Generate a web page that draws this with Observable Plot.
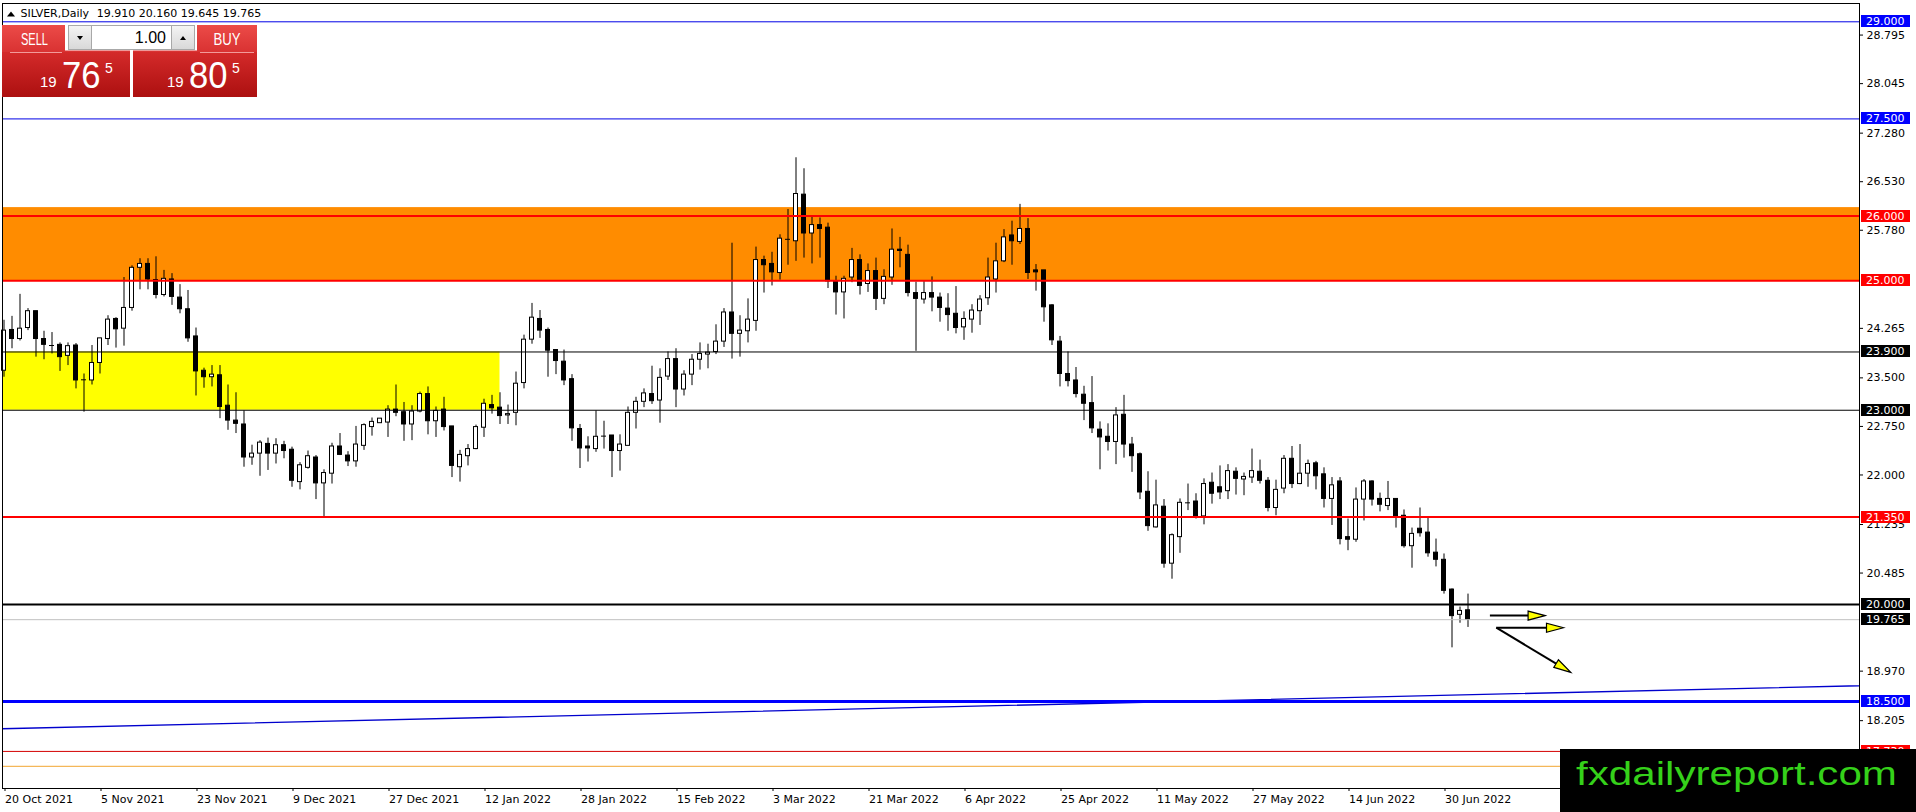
<!DOCTYPE html>
<html lang="en">
<head>
<meta charset="utf-8">
<title>SILVER, Daily</title>
<script src="https://cdn.jsdelivr.net/npm/d3@7"></script>
<script src="https://cdn.jsdelivr.net/npm/@observablehq/plot@0.6"></script>
<style>
  html, body { margin:0; padding:0; background:#fff; }
  #wrap { position:relative; width:1916px; height:812px; overflow:hidden; background:#fff; }
  #chart svg { display:block; }
  #ui { position:absolute; left:0; top:0; pointer-events:none; }
</style>
</head>
<body>
<div id="wrap">
  <div id="chart"></div>
  <svg id="ui" width="1916" height="812" viewBox="0 0 1916 812"></svg>
</div>
<script>
// ---------- DATA ----------
const symbol = "SILVER,Daily";
const opens = [
23.61,24.24,24.10,24.27,24.53,24.10,24.01,24.01,23.84,24.00,
23.46,23.46,23.73,24.10,24.41,24.26,24.58,25.20,25.26,25.01,
24.78,25.02,24.74,24.56,24.14,23.61,23.51,23.54,23.07,22.84,
22.78,22.27,22.33,22.48,22.33,22.46,22.39,21.89,22.11,22.27,
21.87,22.02,22.44,22.30,22.21,22.45,22.74,22.80,22.81,23.01,
22.97,22.78,22.98,23.25,22.83,23.01,22.75,22.12,22.29,22.40,
22.73,23.08,23.04,22.92,22.96,23.42,24.09,24.41,24.24,23.93,
23.75,23.48,22.71,22.44,22.40,22.60,22.61,22.37,22.45,22.96,
23.13,23.25,23.15,23.52,23.79,23.32,23.55,23.78,23.86,23.90,
24.06,24.51,24.18,24.22,24.38,25.32,25.26,25.12,25.64,25.61,
26.33,25.73,25.86,25.82,24.99,24.82,25.05,25.32,24.95,25.15,
24.72,25.05,25.48,25.40,24.81,24.71,24.81,24.74,24.57,24.49,
24.28,24.40,24.53,24.73,25.02,25.30,25.70,25.60,25.80,25.16,
25.16,24.62,24.06,23.56,23.46,23.24,23.11,22.70,22.59,22.51,
22.93,22.47,22.32,21.74,21.19,21.51,20.63,21.04,21.57,21.59,
21.36,21.88,21.81,21.75,22.05,21.93,21.96,22.05,21.91,21.49,
21.79,22.25,21.86,22.02,22.18,22.01,21.63,21.90,21.04,21.00,
21.62,21.90,21.63,21.52,21.63,21.37,20.90,21.17,21.11,20.80,
20.69,20.23,19.84,19.910];
const highs = [
24.39,24.45,24.79,24.57,24.53,24.22,24.20,24.04,24.04,24.03,
23.56,24.00,24.11,24.46,24.43,25.05,25.23,25.34,25.34,25.37,
25.16,25.11,24.94,24.85,24.27,23.65,23.69,23.69,23.39,23.27,
22.99,22.46,22.53,22.57,22.56,22.52,22.43,22.19,22.37,22.30,
22.08,22.49,22.64,22.36,22.75,22.79,22.88,22.87,23.07,23.39,
23.12,23.07,23.28,23.36,23.05,23.20,22.75,22.38,22.47,22.77,
23.17,23.23,23.27,23.08,23.59,24.16,24.65,24.54,24.27,23.93,
23.93,23.55,22.78,22.59,22.99,22.83,22.61,22.62,23.05,23.20,
23.33,23.68,23.64,23.90,23.95,23.61,23.86,24.04,24.02,24.32,
24.57,25.58,24.46,24.72,25.52,25.38,25.44,25.71,26.10,26.90,
26.73,25.99,25.97,25.89,25.07,25.07,25.50,25.40,25.26,25.35,
25.17,25.80,25.67,25.55,24.98,24.99,25.06,24.81,24.80,24.91,
24.52,24.63,24.77,25.35,25.58,25.79,25.92,26.18,25.96,25.25,
25.16,24.63,24.14,23.90,23.66,23.37,23.52,22.82,22.79,23.04,
23.23,22.58,22.34,22.05,21.92,21.62,21.09,21.63,21.86,21.71,
21.94,22.03,22.14,22.16,22.11,22.03,22.40,22.23,21.96,21.92,
22.30,22.44,22.47,22.23,22.21,22.11,21.96,21.96,21.32,21.80,
21.93,21.91,21.72,21.90,21.63,21.46,21.18,21.49,21.34,21.01,
20.78,20.24,19.96,20.160];
const lows = [
23.51,23.95,24.07,24.23,23.82,23.78,23.87,23.60,23.69,23.33,
22.97,23.39,23.56,24.00,23.96,23.99,24.53,24.86,24.86,24.72,
24.75,24.62,24.49,24.05,23.22,23.34,23.36,22.87,22.69,22.64,
22.12,22.15,21.98,22.07,22.17,22.25,21.81,21.77,22.09,21.62,
21.35,21.86,22.30,22.13,22.12,22.38,22.60,22.80,22.58,22.90,
22.52,22.53,22.96,22.62,22.58,22.68,21.96,21.89,22.14,22.39,
22.58,22.94,22.78,22.78,22.76,23.33,24.02,24.11,23.51,23.55,
23.38,22.52,22.10,22.20,22.35,22.40,21.96,22.06,22.45,22.71,
23.04,23.09,22.80,23.46,23.04,23.22,23.38,23.62,23.64,23.86,
23.97,23.79,23.82,24.04,24.22,24.81,24.92,25.01,25.24,25.30,
25.35,25.26,25.35,24.88,24.47,24.41,24.97,24.78,24.82,24.54,
24.63,24.93,25.20,24.75,23.91,24.64,24.52,24.36,24.22,24.18,
24.08,24.19,24.31,24.62,24.81,25.28,25.24,25.56,25.02,24.84,
24.36,24.00,23.36,23.36,23.19,22.84,22.64,22.08,22.37,22.16,
22.26,22.04,21.62,21.13,21.18,20.56,20.39,20.79,21.45,21.32,
21.23,21.55,21.62,21.62,21.69,21.68,21.87,21.86,21.43,21.37,
21.71,21.79,21.85,21.81,21.77,21.49,21.22,20.92,20.83,20.96,
21.29,21.52,21.43,21.45,21.18,20.87,20.56,21.04,20.73,20.58,
20.16,19.33,19.71,19.645];
const closes = [
24.23,24.10,24.26,24.53,24.10,24.01,24.00,23.82,23.99,23.46,
23.47,23.73,24.11,24.40,24.25,24.58,25.20,25.26,25.02,24.78,
25.03,24.75,24.56,24.11,23.60,23.51,23.55,23.05,22.84,22.79,
22.27,22.33,22.50,22.33,22.46,22.37,21.91,22.15,22.29,21.87,
22.03,22.44,22.31,22.21,22.47,22.77,22.82,22.87,23.01,22.96,
22.78,22.98,23.25,22.83,22.99,22.74,22.14,22.31,22.40,22.74,
23.10,23.03,22.91,22.94,23.41,24.09,24.43,24.23,23.92,23.76,
23.46,22.72,22.41,22.41,22.59,22.60,22.37,22.47,22.96,23.13,
23.26,23.14,23.50,23.79,23.32,23.55,23.78,23.87,23.89,24.06,
24.51,24.18,24.23,24.40,25.32,25.24,25.13,25.65,25.64,26.34,
25.73,25.86,25.80,24.99,24.82,25.03,25.32,24.92,25.15,24.72,
25.06,25.48,25.46,24.81,24.72,24.81,24.74,24.58,24.47,24.27,
24.41,24.54,24.71,25.05,25.30,25.67,25.61,25.80,25.12,25.13,
24.59,24.08,23.56,23.45,23.25,23.10,22.72,22.58,22.51,22.92,
22.47,22.29,21.73,21.21,21.53,20.63,21.07,21.57,21.57,21.36,
21.86,21.71,21.73,22.06,21.94,21.97,22.06,21.91,21.49,21.77,
22.25,21.86,22.02,22.17,21.98,21.63,21.84,21.01,21.00,21.62,
21.90,21.62,21.54,21.63,21.36,20.90,21.09,21.10,20.79,20.69,
20.21,19.82,19.90,19.765];

// x tick labels: every 12th bar
const xTickBars = [0,12,24,36,48,60,72,84,96,108,120,132,144,156,168,180];
const xTickLabels = ["20 Oct 2021","5 Nov 2021","23 Nov 2021","9 Dec 2021","27 Dec 2021","12 Jan 2022",
  "28 Jan 2022","15 Feb 2022","3 Mar 2022","21 Mar 2022","6 Apr 2022","25 Apr 2022",
  "11 May 2022","27 May 2022","14 Jun 2022","30 Jun 2022"];
// visible y tick values of the price scale
const yTickValues = [28.795,28.045,27.280,26.530,25.780,24.265,23.500,22.750,22.000,21.235,20.485,18.970,18.205];

// horizontal levels
const levelPrices = [29.0, 27.5, 26.0, 25.0, 23.9, 23.0, 21.35, 20.0, 19.765, 18.5, 17.73, 17.5];
const levelKinds  = ["blue","blue","red","red","black","black","red","blackThick","bid","blueThick","darkred","orange"];

// zones (rectangles)
const zoneLow   = [25.0, 23.0];
const zoneHigh  = [26.13, 23.9];
const zoneStart = [-5, -5];
const zoneEnd   = [300, 62];
const zoneKinds = ["orange","yellow"];

// sloped trend line (bar index, price)
const trendBars   = [-1, 240];
const trendPrices = [18.078, 18.768];

// arrows (bar index, price)
const arrowX1 = [185.8, 186.6, 186.6];
const arrowY1 = [19.82, 19.633, 19.633];
const arrowX2 = [192.7, 195.0, 195.9];
const arrowY2 = [19.82, 19.633, 18.944];

// quotes
const bid = 19.765, ask = 19.805, lots = 1.00;

// ---------- STYLES ----------
const levelStyle = {
  blue:       {stroke:"#0000e6", width:1, label:"#0000ff"},
  red:        {stroke:"#ff0000", width:2, label:"#ff0000"},
  black:      {stroke:"#000000", width:1, label:"#000000"},
  blackThick: {stroke:"#000000", width:2, label:"#000000"},
  bid:        {stroke:"#c0c0c0", width:1, label:"#000000"},
  blueThick:  {stroke:"#0000ff", width:3, label:"#0000ff"},
  darkred:    {stroke:"#d40000", width:1, label:"#ff0000"},
  orange:     {stroke:"#f2a630", width:1, label:null}
};
const zoneFill = {orange:"#ff8c00", yellow:"#ffff00"};

// ---------- BUILD ----------
const bars = opens.map((o, i) => ({i, o, h: highs[i], l: lows[i], c: closes[i]}));
const isDoji = d => Math.abs(d.c - d.o) < 0.015;
const bulls = bars.filter(d => !isDoji(d) && d.c > d.o);
const bears = bars.filter(d => !isDoji(d) && d.c < d.o);
const dojis = bars.filter(isDoji);
const levels = levelPrices.map((p, k) => ({p, kind: levelKinds[k]}));
const zones = zoneLow.map((lo, k) => ({lo, hi: zoneHigh[k], x1: zoneStart[k], x2: zoneEnd[k], kind: zoneKinds[k]}));
const trend = trendBars.map((b, k) => ({b, p: trendPrices[k]}));
const f3 = d3.format(".3f");

const W = 1916, H = 812;
const mL = 2, mR = 57, mT = 3, mB = 24;
const barPx = 8, firstBarPx = 3.5;
const xDomain = [(mL - firstBarPx) / barPx, (W - mR - firstBarPx) / barPx];
// 29.000 sits at y=21.3, 64.74 px per unit
const pxPerUnit = 64.74, y29 = 21.3;
const yDomain = [29 - (H - mB - y29) / pxPerUnit, 29 + (y29 - mT) / pxPerUnit];

function priceLabels(index, scales, values, dimensions) {
  const g = d3.create("svg:g").attr("text-anchor", "start");
  const x0 = dimensions.width - dimensions.marginRight;
  levels.forEach(lv => {
    const bg = levelStyle[lv.kind].label;
    if (!bg) return;
    const y = Math.round(scales.y(lv.p));
    g.append("rect").attr("x", x0 + 2).attr("y", y - 6).attr("width", 49).attr("height", 12).attr("fill", bg);
    g.append("text").attr("x", x0 + 7).attr("y", y).attr("dy", "0.36em").attr("fill", "white")
      .attr("text-anchor", "start")
      .attr("font-family", "DejaVu Sans").attr("font-size", 11).text(f3(lv.p));
  });
  return g.node();
}

function arrowMark(index, scales) {
  const g = d3.create("svg:g");
  arrowX1.forEach((_, k) => {
    const x1 = scales.x(arrowX1[k]), y1 = scales.y(arrowY1[k]);
    const x2 = scales.x(arrowX2[k]), y2 = scales.y(arrowY2[k]);
    const a = Math.atan2(y2 - y1, x2 - x1), L = 17, w = 4.5;
    const bx = x2 - L * Math.cos(a), by = y2 - L * Math.sin(a);
    g.append("line").attr("x1", x1).attr("y1", y1).attr("x2", bx).attr("y2", by)
      .attr("stroke", "black").attr("stroke-width", 2);
    const px = -Math.sin(a) * w, py = Math.cos(a) * w;
    g.append("polygon").attr("points", `${x2},${y2} ${bx + px},${by + py} ${bx - px},${by - py}`)
      .attr("fill", "#ffff00").attr("stroke", "black").attr("stroke-width", 1.2).attr("stroke-linejoin", "miter");
  });
  return g.node();
}

const marks = [];
zones.forEach(z => marks.push(Plot.rect([z], {x1: "x1", x2: "x2", y1: "lo", y2: "hi", fill: zoneFill[z.kind], clip: true})));
marks.push(Plot.line(trend, {x: "b", y: "p", stroke: "#0000cd", strokeWidth: 1.3, clip: true}));
marks.push(Plot.ruleX(bars, {x: "i", y1: "l", y2: "h", stroke: "black", strokeWidth: 1}));
marks.push(Plot.rect(bulls, {x1: d => d.i - 0.25, x2: d => d.i + 0.25, y1: "o", y2: "c", fill: "white", stroke: "black", strokeWidth: 1}));
marks.push(Plot.rect(bears, {x1: d => d.i - 0.25, x2: d => d.i + 0.25, y1: "o", y2: "c", fill: "black", stroke: "black", strokeWidth: 1}));
marks.push(Plot.ruleY(dojis, {y: "c", x1: d => d.i - 0.3125, x2: d => d.i + 0.3125, stroke: "black", strokeWidth: 1}));
levels.forEach(lv => {
  const s = levelStyle[lv.kind];
  marks.push(Plot.ruleY([lv], {y: "p", stroke: s.stroke, strokeWidth: s.width}));
});
marks.push(arrowMark);
marks.push(Plot.frame({stroke: "black"}));
marks.push(Plot.axisX({ticks: xTickBars, tickFormat: d => xTickLabels[xTickBars.indexOf(d)], tickSize: 3, tickPadding: 4,
  textAnchor: "start", dx: 1, anchor: "bottom", label: null, fontSize: 11}));
marks.push(Plot.axisY({anchor: "right", ticks: yTickValues, tickFormat: f3, tickSize: 3, tickPadding: 4, label: null, fontSize: 11}));
marks.push(priceLabels);

const plot = Plot.plot({
  width: W, height: H,
  marginLeft: mL, marginRight: mR, marginTop: mT, marginBottom: mB,
  style: {fontFamily: "DejaVu Sans", fontSize: "11px", background: "white", color: "black"},
  x: {type: "linear", domain: xDomain, axis: null},
  y: {type: "linear", domain: yDomain, axis: null},
  marks
});
document.getElementById("chart").appendChild(plot);

// ---------- UI overlay: header, one-click panel, logo ----------
const ui = d3.select("#ui");
const defs = ui.append("defs");
function grad(id, c1, c2) {
  const lg = defs.append("linearGradient").attr("id", id).attr("x1", 0).attr("y1", 0).attr("x2", 0).attr("y2", 1);
  lg.append("stop").attr("offset", "0%").attr("stop-color", c1);
  lg.append("stop").attr("offset", "100%").attr("stop-color", c2);
}
grad("gTop", "#ec4b48", "#d93232");
grad("gBot", "#d42a2a", "#ac1010");
grad("gBtn", "#f4f4f4", "#d8d8d8");

// header
const last = bars[bars.length - 1];
ui.append("polygon").attr("points", "7,16.5 15,16.5 11,11.5").attr("fill", "black");
ui.append("text").attr("x", 20.5).attr("y", 17.3).attr("font-family", "DejaVu Sans").attr("font-size", 11)
  .attr("fill", "black").text(symbol);
ui.append("text").attr("x", 96.7).attr("y", 17.3).attr("font-family", "DejaVu Sans").attr("font-size", 11)
  .attr("fill", "black").text([last.o, last.h, last.l, last.c].map(f3).join(" "));

// panels
function bigPanel(x, w) {
  ui.append("rect").attr("x", x).attr("y", 25).attr("width", w).attr("height", 27).attr("fill", "url(#gTop)");
  ui.append("rect").attr("x", x).attr("y", 52).attr("width", w).attr("height", 45).attr("fill", "url(#gBot)");
}
bigPanel(2, 128);
bigPanel(133, 124);
// white gap + spinner
ui.append("rect").attr("x", 65).attr("y", 25).attr("width", 132).attr("height", 25.5).attr("fill", "white");
ui.append("rect").attr("x", 68.5).attr("y", 25.5).attr("width", 126).attr("height", 24).attr("fill", "white").attr("stroke", "#a8a8a8");
ui.append("rect").attr("x", 68.5).attr("y", 25.5).attr("width", 23).attr("height", 24).attr("fill", "url(#gBtn)").attr("stroke", "#a8a8a8");
ui.append("rect").attr("x", 171.5).attr("y", 25.5).attr("width", 23).attr("height", 24).attr("fill", "url(#gBtn)").attr("stroke", "#a8a8a8");
ui.append("polygon").attr("points", "77,36 83,36 80,40").attr("fill", "black");
ui.append("polygon").attr("points", "180,40 186,40 183,36").attr("fill", "black");
ui.append("text").attr("x", 166).attr("y", 43).attr("text-anchor", "end").attr("font-family", "Liberation Sans")
  .attr("font-size", 16).attr("fill", "black").text(lots.toFixed(2));
// SELL / BUY
ui.append("text").attr("x", 21).attr("y", 45).attr("font-family", "Liberation Sans").attr("font-size", 16)
  .attr("fill", "white").attr("textLength", 27).attr("lengthAdjust", "spacingAndGlyphs").text("SELL");
ui.append("text").attr("x", 213.5).attr("y", 45).attr("font-family", "Liberation Sans").attr("font-size", 16)
  .attr("fill", "white").attr("textLength", 27).attr("lengthAdjust", "spacingAndGlyphs").text("BUY");
ui.append("line").attr("x1", 10).attr("x2", 62).attr("y1", 52.5).attr("y2", 52.5).attr("stroke", "#f29a9a");
ui.append("line").attr("x1", 200).attr("x2", 254).attr("y1", 52.5).attr("y2", 52.5).attr("stroke", "#f29a9a");
// big prices
function bigPrice(v, x0) {
  const s = v.toFixed(3);            // "19.765"
  const a = s.slice(0, 2), b = s.slice(3, 5), c = s.slice(5);
  ui.append("text").attr("x", x0).attr("y", 87).attr("font-family", "Liberation Sans").attr("font-size", 15)
    .attr("fill", "white").text(a);
  ui.append("text").attr("x", x0 + 22).attr("y", 87.5).attr("font-family", "Liberation Sans").attr("font-size", 36)
    .attr("fill", "white").attr("textLength", 38.5).attr("lengthAdjust", "spacingAndGlyphs").text(b);
  ui.append("text").attr("x", x0 + 65).attr("y", 72.5).attr("font-family", "Liberation Sans").attr("font-size", 14)
    .attr("fill", "white").text(c);
}
bigPrice(bid, 40);
bigPrice(ask, 167);

// logo
ui.append("rect").attr("x", 1560).attr("y", 749).attr("width", 356).attr("height", 63).attr("fill", "black");
ui.append("text").attr("x", 1576).attr("y", 785).attr("font-family", "Liberation Sans").attr("font-size", 34)
  .attr("fill", "#35d11a").attr("textLength", 321).attr("lengthAdjust", "spacingAndGlyphs").text("fxdailyreport.com");
</script>
</body>
</html>
